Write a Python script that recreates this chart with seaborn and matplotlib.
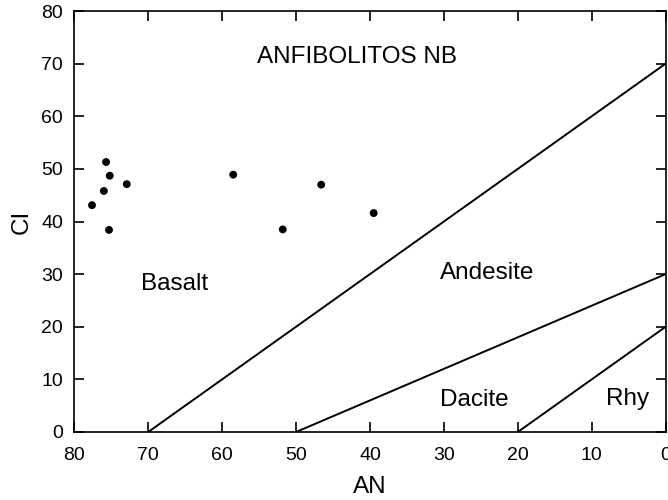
import pandas as pd
import seaborn as sns
import matplotlib
matplotlib.use("Agg")
import matplotlib.pyplot as plt

# sample points (AN, CI)
an = [75.7, 75.2, 72.9, 76.0, 77.6, 75.3, 58.5, 46.6, 51.8, 39.5]
ci = [51.3, 48.7, 47.1, 45.8, 43.1, 38.4, 48.9, 47.0, 38.5, 41.6]

# field boundaries (start and end of each straight line)
boundary = ["bas-and", "bas-and", "and-dac", "and-dac", "dac-rhy", "dac-rhy"]
boundary_an = [70, 0, 50, 0, 20, 0]
boundary_ci = [0, 70, 0, 30, 0, 20]

# field names
fields = ["ANFIBOLITOS NB", "Basalt", "Andesite", "Dacite", "Rhy"]
field_an = [41.8, 66.5, 24.2, 25.9, 5.2]
field_ci = [70.2, 27.0, 29.0, 5.0, 5.1]

sns.set_style("ticks")
plt.rcParams["font.family"] = ["Liberation Sans", "DejaVu Sans"]
plt.rcParams["text.color"] = "black"
plt.rcParams["axes.labelcolor"] = "black"

pts = pd.DataFrame({"AN": an, "CI": ci})
lines = pd.DataFrame({"boundary": boundary, "AN": boundary_an, "CI": boundary_ci})

fig = plt.figure(figsize=(6.68, 5), dpi=100)
ax = fig.add_axes([0.1112, 0.136, 0.8853, 0.842])

sns.lineplot(data=lines, x="AN", y="CI", units="boundary", estimator=None,
             color="black", linewidth=1.4, ax=ax)
sns.scatterplot(data=pts, x="AN", y="CI", color="black", s=32,
                edgecolor="none", ax=ax, zorder=3)

for name, x, y in zip(fields, field_an, field_ci):
    ax.text(x, y, name, ha="center", va="baseline", fontsize=17.5, color="black")

ax.set_xlim(80, 0)
ax.set_ylim(0, 80)
ax.set_xticks(range(80, -1, -10))
ax.set_yticks(range(0, 81, 10))
ax.tick_params(direction="in", length=7, width=1.2, top=True, right=True,
               labelsize=14, colors="black")
ax.tick_params(axis="x", pad=10.5)
ax.tick_params(axis="y", pad=8)
for sp in ax.spines.values():
    sp.set_linewidth(1.2)
    sp.set_color("black")

ax.set_xlabel("AN", fontsize=17.5, labelpad=9, color="black")
ax.set_ylabel("CI", fontsize=17.5, labelpad=6, color="black")

plt.savefig("out.png", dpi=100)
